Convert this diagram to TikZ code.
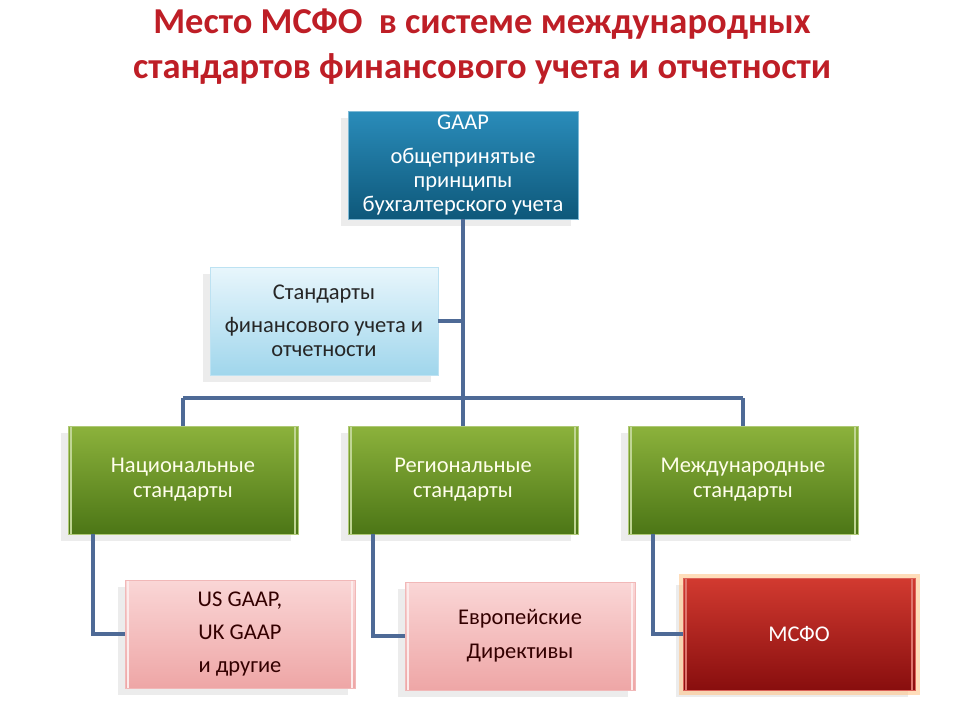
\documentclass[tikz,border=0pt]{standalone}
\usepackage{fontspec}
\setmainfont{Carlito}
\usetikzlibrary{shadows}
\definecolor{titlered}{RGB}{190,30,38}
\definecolor{linkblue}{RGB}{78,106,150}
\definecolor{tealtop}{RGB}{42,140,186}
\definecolor{tealbot}{RGB}{14,88,122}
\definecolor{skytop}{RGB}{232,246,252}
\definecolor{skybot}{RGB}{160,214,236}
\definecolor{greentop}{RGB}{140,178,60}
\definecolor{greenbot}{RGB}{76,118,22}
\definecolor{pinktop}{RGB}{250,214,214}
\definecolor{pinkbot}{RGB}{238,166,166}
\definecolor{redtop}{RGB}{210,58,48}
\definecolor{redbot}{RGB}{136,14,14}
\begin{document}
\begin{tikzpicture}[x=1pt,y=-1pt,
  box/.style={rectangle,minimum width=230pt,minimum height=108pt,align=center,
    font=\fontsize{22.5}{24}\selectfont,inner sep=2pt,
    drop shadow={opacity=0.15,shadow xshift=-7pt,shadow yshift=-7pt}},
  bevel/.style={path picture={
    \draw[#1,line width=1.5pt]
      ([xshift=3pt]path picture bounding box.south west) -- ([xshift=3pt]path picture bounding box.north west)
      ([xshift=-3pt]path picture bounding box.south east) -- ([xshift=-3pt]path picture bounding box.north east);}},
  gaapbox/.style={box,top color=tealtop,bottom color=tealbot,draw=tealtop!60!white,text=white},
  skybox/.style={box,minimum width=228pt,top color=skytop,bottom color=skybot,draw=skybot!70!white,text=black!85},
  greenbox/.style={box,top color=greentop,bottom color=greenbot,draw=greentop!70!white,text=yellow!8!white,
    bevel=greentop!55!white,font=\fontsize{22.5}{25}\selectfont},
  pinkbox/.style={box,top color=pinktop,bottom color=pinkbot,draw=pinkbot!80!white,text=black!80!red,
    bevel=pinktop!50!white,font=\fontsize{22.5}{33}\selectfont},
  redbox/.style={box,minimum width=232pt,minimum height=112pt,top color=redtop,bottom color=redbot,
    draw=redtop!80!white,text=white,bevel=redtop!70!white,
    preaction={draw=orange!45,line width=9pt,opacity=0.6}},
  link/.style={draw=linkblue,line width=3.5pt}]
\useasboundingbox (0,0) rectangle (960,720);

% title
\node (title) at (482,47) [align=center,text=titlered,font=\fontsize{36.5}{45}\bfseries\selectfont]
  {Место МСФО\ \ в системе международных\\стандартов финансового учета и отчетности};

% top level
\node (gaap) at (463,165) [gaapbox] {GAAP\\[10pt]общепринятые\\принципы\\бухгалтерского учета};
\node (std) at (324,321) [skybox] {Стандарты\\[9pt]финансового учета и\\отчетности};

% middle level
\node (nat) at (183,480) [greenbox] {Национальные\\стандарты};
\node (reg) at (463,480) [greenbox] {Региональные\\стандарты};
\node (intl) at (743,480) [greenbox] {Международные\\стандарты};

% bottom level
\node (usg) at (240,634) [pinkbox] {US GAAP,\\UK GAAP\\и другие};
\node (eur) at (520,636) [pinkbox,font=\fontsize{22.5}{34}\selectfont] {Европейские\\Директивы};
\node (ifrs) at (799,634) [redbox] {МСФО};

% bus
\coordinate (busL) at (183,398);
\coordinate (busR) at (743,398);

\path[link]
(gaap) -- (gaap |- busL)
(std.east) -- (std.east -| gaap)
(busL) -- (busR)
(busL) -- (nat.north)
(gaap |- busL) -- (reg.north)
(busR) -- (intl.north);

% down links
\path[link]
([xshift=25pt]nat.south west) |- (usg.west)
([xshift=25pt]reg.south west) |- (eur.west)
([xshift=25pt]intl.south west) |- (ifrs.west);
\end{tikzpicture}
\end{document}
